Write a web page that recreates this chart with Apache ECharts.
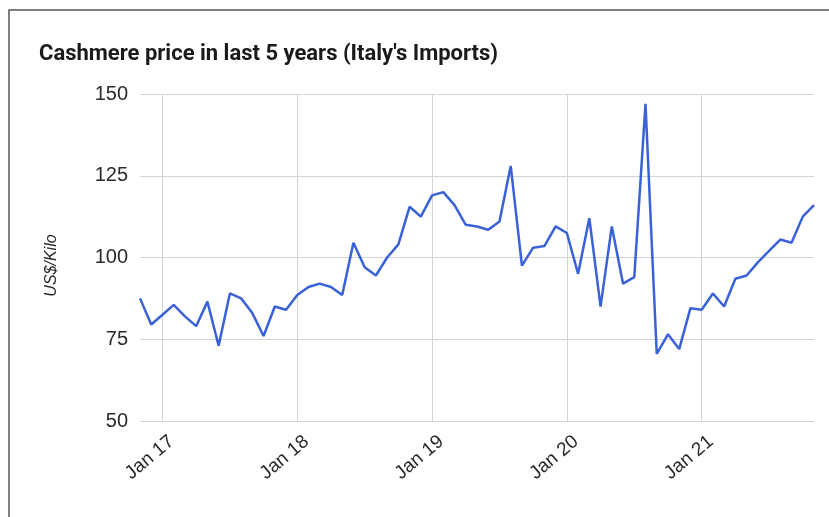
<!DOCTYPE html>
<html>
<head>
<meta charset="utf-8">
<style>
  html, body { margin: 0; padding: 0; background: #fff; }
  #chart { width: 829px; height: 517px; }
</style>
<script src="https://cdn.jsdelivr.net/npm/echarts@6/dist/echarts.min.js"></script>
</head>
<body>
<div id="chart"></div>
<script>
// monthly categories, Nov 2016 .. Nov 2021
const months = [
  "Nov 16", "Dec 16",
  "Jan 17", "Feb 17", "Mar 17", "Apr 17", "May 17", "Jun 17", "Jul 17", "Aug 17", "Sep 17", "Oct 17", "Nov 17", "Dec 17",
  "Jan 18", "Feb 18", "Mar 18", "Apr 18", "May 18", "Jun 18", "Jul 18", "Aug 18", "Sep 18", "Oct 18", "Nov 18", "Dec 18",
  "Jan 19", "Feb 19", "Mar 19", "Apr 19", "May 19", "Jun 19", "Jul 19", "Aug 19", "Sep 19", "Oct 19", "Nov 19", "Dec 19",
  "Jan 20", "Feb 20", "Mar 20", "Apr 20", "May 20", "Jun 20", "Jul 20", "Aug 20", "Sep 20", "Oct 20", "Nov 20", "Dec 20",
  "Jan 21", "Feb 21", "Mar 21", "Apr 21", "May 21", "Jun 21", "Jul 21", "Aug 21", "Sep 21", "Oct 21", "Nov 21"
];
// US$/Kilo
const prices = [
  87.5, 79.5,
  82.5, 85.5, 82, 79, 86.5, 73, 89, 87.5, 83, 76, 85, 84,
  88.5, 91, 92, 91, 88.5, 104.5, 97, 94.5, 100, 104, 115.5, 112.5,
  119, 120, 116, 110, 109.5, 108.5, 111, 128, 97.5, 103, 103.5, 109.5,
  107.5, 95, 112, 85, 109.5, 92, 94, 147, 70.5, 76.5, 72, 84.5,
  84, 89, 85, 93.5, 94.5, 98.5, 102, 105.5, 104.5, 112.5, 116
];
const yTicks = [50, 75, 100, 125, 150];

const isJan = (idx) => months[idx].startsWith("Jan");

const chart = echarts.init(document.getElementById("chart"));
chart.setOption({
  animation: false,
  backgroundColor: "#fff",
  title: {
    text: "Cashmere price in last 5 years (Italy's Imports)",
    left: 34,
    top: 38,
    textStyle: { fontFamily: "Roboto", fontWeight: "bold", fontSize: 22, color: "#1a1a1a" }
  },
  graphic: [
    {
      type: "rect",
      shape: { x: 9, y: 10, width: 840, height: 540 },
      style: { fill: "none", stroke: "#555", lineWidth: 1.5 },
      silent: true
    }
  ],
  grid: { left: 140, right: 15, top: 94, bottom: 96 },
  xAxis: {
    type: "category",
    data: months,
    boundaryGap: false,
    axisLine: { show: false },
    axisTick: { show: false },
    axisLabel: {
      interval: (idx) => isJan(idx),
      rotate: 40,
      margin: 26,
      padding: [0, -12, 0, 0],
      fontFamily: "Liberation Sans",
      fontSize: 19,
      color: "#2a2a2a"
    },
    splitLine: {
      show: true,
      interval: (idx) => isJan(idx),
      lineStyle: { color: "#d4d4d4", width: 1 }
    }
  },
  yAxis: {
    type: "value",
    min: yTicks[0],
    max: yTicks[yTicks.length - 1],
    interval: 25,
    name: "US$/Kilo",
    nameLocation: "middle",
    nameGap: 80,
    nameTextStyle: {
      fontFamily: "Liberation Sans",
      fontStyle: "italic",
      fontSize: 16,
      color: "#2a2a2a",
      padding: [0, 16, 0, 0]
    },
    axisLine: { show: false },
    axisTick: { show: false },
    axisLabel: { margin: 12, fontFamily: "Liberation Sans", fontSize: 20, color: "#2a2a2a" },
    splitLine: { lineStyle: { color: "#d4d4d4", width: 1 } }
  },
  series: [
    {
      type: "line",
      data: prices,
      symbol: "none",
      lineStyle: { color: "#3a62d8", width: 2.5 }
    }
  ]
});
</script>
</body>
</html>
